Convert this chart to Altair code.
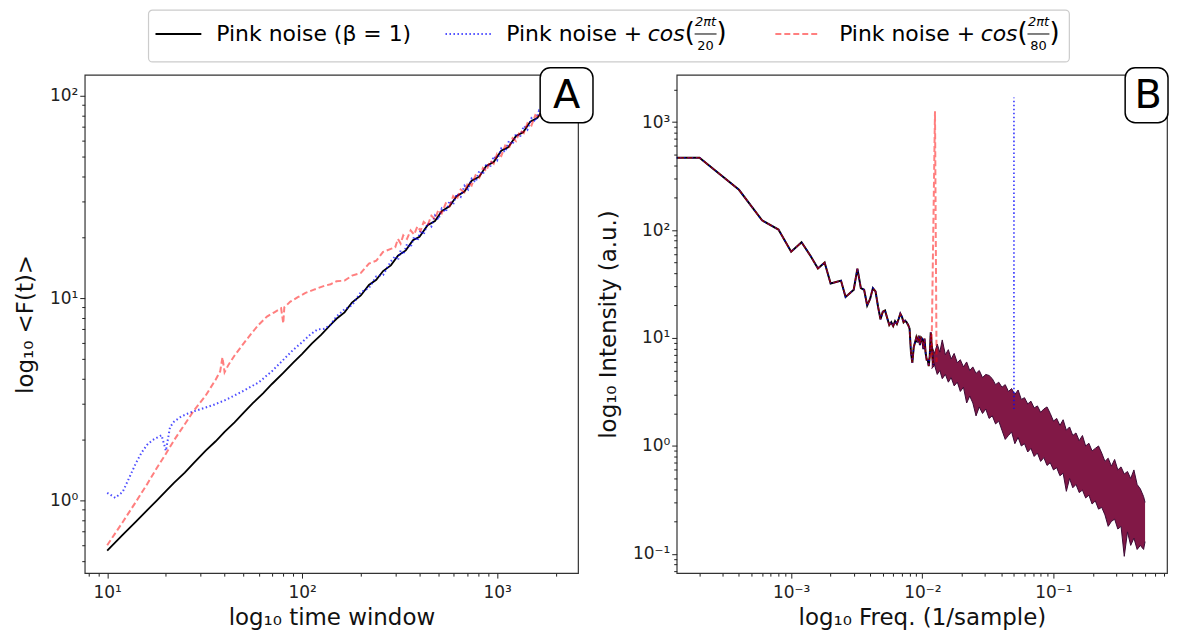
import altair as alt
import pandas as pd

FONT = "DejaVu Sans"

# ---------------- Panel A : DFA fluctuation <F(t)> vs time window t ----------------
A_T_BLACK = [10, 12, 14, 16, 18, 20, 22, 25, 28, 32, 36, 40, 45, 50, 56, 63, 70, 80, 90, 100, 112, 125, 140,
             150, 165, 180, 200, 220, 240, 260, 285, 310, 340, 370, 400, 440, 480, 520, 570, 620, 680, 740, 810,
             880, 960, 1050, 1140, 1250, 1360, 1480, 1610, 1750, 1900, 2000]
A_F_BLACK = [0.565, 0.675, 0.784, 0.893, 1.0, 1.11, 1.22, 1.37, 1.54, 1.76, 1.96, 2.18, 2.43, 2.71, 3.03, 3.38,
             3.76, 4.27, 4.80, 5.30, 5.95, 6.58, 7.38,
             7.9, 8.5, 9.5, 10.3, 11.6, 12.3, 13.6, 14.5, 16.2, 17.2, 19.3, 20.1, 22.9, 24.0, 26.9, 28.4, 31.9,
             33.6, 38.0, 39.8, 45.0, 47.0, 53.5, 55.6, 63.2, 66.0, 74.5, 77.8, 87.5, 91.5, 97.0]

A_T_BLUE = [10, 11, 12, 13, 14, 15, 16, 17, 18, 19, 20, 21, 22, 24, 26, 28, 30, 35, 40, 45, 50, 55, 60, 70, 80,
            90, 100, 110, 120, 130, 140,
            150, 165, 180, 200, 220, 240, 260, 285,
            300, 310, 320, 330, 345, 360, 375, 390, 405, 420, 440, 460, 480, 500, 520, 545, 570, 595, 620, 650,
            680, 710, 740, 775, 810, 845, 880, 920, 960, 1000, 1050, 1100, 1150, 1200, 1250, 1310, 1370, 1430,
            1500, 1570, 1640, 1710, 1790, 1870, 1950, 2000]
A_F_BLUE = [1.09, 1.03, 1.10, 1.30, 1.52, 1.72, 1.88, 1.98, 2.04, 2.10, 1.76, 2.30, 2.45, 2.60, 2.69, 2.76, 2.82,
            2.96, 3.12, 3.30, 3.48, 3.66, 3.84, 4.35, 4.95, 5.55, 6.05, 6.6, 7.0, 7.05, 7.4,
            8.1, 8.8, 9.2, 10.7, 11.2, 12.8, 13.0, 15.2,
            16.1, 15.4, 17.2, 16.4, 18.5, 17.8, 20.1, 19.2, 21.6, 20.6, 23.5, 22.6, 25.6, 24.4, 27.7, 26.6,
            30.2, 29.0, 32.8, 31.6, 35.9, 34.4, 38.9, 37.4, 42.5, 40.8, 46.1, 44.3, 50.2, 48.0, 54.8, 52.7,
            59.8, 57.4, 64.9, 62.4, 70.9, 68.0, 77.4, 74.5, 84.4, 80.9, 91.9, 88.3, 99.8, 95.0]

A_T_RED = [10, 12, 14, 16, 18, 20, 22, 25, 28, 32, 36, 38, 39, 40, 42, 45, 50, 55, 60, 66, 72, 78, 80, 81, 87,
           95, 104, 115, 130, 140,
           150, 165, 180, 200, 220, 240, 260, 285,
           300, 310, 320, 330, 345, 360, 375, 390, 405, 420, 440, 460, 480, 500, 520, 545, 570, 595, 620, 650,
           680, 710, 740, 775, 810, 845, 880, 920, 960, 1000, 1050, 1100, 1150, 1200, 1250, 1310, 1370, 1430,
           1500, 1570, 1640, 1710, 1790, 1870, 1950, 2000]
A_F_RED = [0.60, 0.78, 0.98, 1.20, 1.45, 1.70, 1.98, 2.38, 2.80, 3.30, 3.95, 4.35, 5.10, 4.30, 4.70, 5.20, 5.95,
           6.70, 7.40, 8.10, 8.50, 8.90, 7.50, 9.00, 9.60, 10.1, 10.6, 11.0, 11.5, 11.7,
           12.1, 12.2, 12.9, 13.3, 14.8, 15.3, 16.9, 17.5,
           17.8, 19.6, 18.6, 20.4, 19.6, 21.6, 20.6, 22.6, 21.5, 23.8, 22.9, 25.5, 24.5, 27.3, 26.2, 29.4,
           28.4, 31.9, 30.6, 34.4, 33.3, 37.3, 36.0, 40.4, 39.3, 43.9, 42.4, 47.7, 46.1, 51.7, 50.3, 56.7,
           55.0, 61.7, 59.7, 67.2, 65.3, 73.2, 71.2, 80.2, 77.8, 87.1, 84.7, 95.1, 91.9, 98.0]

# ---------------- Panel B : power spectrum ----------------
# first entry stands for the zero-frequency bin (clipped at the left edge)
B_FREQ_LINE = [0.0001, 0.0002, 0.0004, 0.0006, 0.0008, 0.0010, 0.0012, 0.0014, 0.0016, 0.0018, 0.0020, 0.0022,
               0.0024, 0.0026, 0.0028, 0.0030, 0.0032, 0.0034, 0.0036, 0.0038, 0.0040, 0.0042, 0.0044, 0.0046,
               0.0048, 0.0050, 0.0052, 0.0054, 0.0056, 0.0058, 0.0060, 0.0062, 0.0064, 0.0066, 0.0068, 0.0070,
               0.0072, 0.0074, 0.0076, 0.0078, 0.0080, 0.0082, 0.0084, 0.0086, 0.0088, 0.0090, 0.0092, 0.0094,
               0.0096, 0.0098, 0.0100, 0.0102, 0.0104, 0.0106, 0.0108, 0.0110, 0.0112, 0.0114, 0.0116, 0.0118,
               0.0120, 0.0122]
B_POW_LINE = [468, 468, 236, 123, 101, 63, 77, 58, 44, 50, 32, 33, 34, 24, 26, 28, 44, 29, 28, 20, 23, 29, 27,
              19.5, 14.9, 17.5, 18, 15.3, 13.2, 14, 12.9, 14.3, 13.5, 15, 16.8, 15.7, 14, 14.5, 14, 13.2, 12.2,
              7.3, 5.9, 8.2, 9.1, 10.1, 9.1, 10.5, 8.6, 10.1, 9.8, 7.9, 9.9, 7.3, 6.3, 6.3, 5.5, 6.8, 11.3, 8.5,
              6.3, 5.6]

B_FREQ_BAND = [0.0118, 0.0124, 0.0130, 0.0136, 0.0142, 0.0150, 0.0158, 0.0166, 0.0175, 0.0185,
               0.0195, 0.0206, 0.0218, 0.0230, 0.0243, 0.0257, 0.0272, 0.0288, 0.0305, 0.0323,
               0.0342, 0.0362, 0.0383, 0.0405, 0.0429, 0.0454, 0.0480, 0.0508, 0.0538, 0.0569,
               0.0602, 0.0637, 0.0674, 0.0713, 0.0755, 0.0799, 0.0845, 0.0894, 0.0946, 0.1001,
               0.1059, 0.1121, 0.1186, 0.1255, 0.1328, 0.1405, 0.1487, 0.1573, 0.1665, 0.1761,
               0.1864, 0.1972, 0.2087, 0.2208, 0.2336, 0.2472, 0.2616, 0.2768, 0.2929, 0.3099,
               0.3279, 0.3470, 0.3672, 0.3885, 0.4111, 0.4350, 0.4603, 0.4871, 0.5000]
B_BAND_HI = [8.5, 7.2, 8.8, 7.4, 9.6, 7.0, 7.8, 6.4, 7.2, 5.9,
             6.3, 5.4, 6.0, 5.0, 5.4, 4.7, 5.0, 4.3, 4.6, 4.5,
             4.2, 3.7, 3.9, 3.5, 3.7, 3.2, 3.4, 3.0, 3.3, 2.7,
             2.8, 2.45, 2.6, 2.25, 2.35, 2.05, 2.2, 2.3, 2.0, 1.7,
             1.8, 1.55, 1.75, 1.4, 1.5, 1.25, 1.32, 1.12, 1.25, 1.0,
             1.06, 0.9, 0.95, 1.0, 0.86, 0.72, 0.77, 0.65, 0.75, 0.60,
             0.64, 0.55, 0.58, 0.50, 0.60, 0.44, 0.40, 0.34, 0.30]
B_BAND_LO = [5.2, 5.6, 4.6, 5.0, 4.2, 4.6, 3.9, 4.3, 3.6, 3.9,
             3.2, 3.5, 2.5, 2.9, 2.5, 1.9, 2.3, 2.0, 2.2, 1.8,
             1.9, 1.6, 1.7, 1.4, 1.15, 1.25, 1.35, 1.05, 1.2, 1.0,
             1.05, 0.88, 0.95, 0.80, 0.86, 0.72, 0.78, 0.66, 0.70, 0.60,
             0.63, 0.53, 0.56, 0.38, 0.50, 0.41, 0.44, 0.37, 0.39, 0.33,
             0.35, 0.29, 0.31, 0.26, 0.27, 0.23, 0.18, 0.20, 0.21, 0.17,
             0.18, 0.095, 0.16, 0.12, 0.14, 0.11, 0.12, 0.11, 0.13]

B_BLUE_PEAK_F = [0.04995, 0.05, 0.05005]
B_BLUE_PEAK_P = [2.6, 1690, 2.2]
B_RED_PEAK_F = [0.01175, 0.0125, 0.01285]
B_RED_PEAK_P = [6.5, 1260, 6.0]

# ---------------- text ----------------
SERIES_NAMES = ["Pink noise (β = 1)", "Pink noise + ", "Pink noise + "]
FRAC_NUM = "2πt"
FRAC_DEN = ["20", "80"]
PANEL_LABELS = ["A", "B"]
COLORS = {"black": "#000000", "blue": "#0000ff", "red": "#ff0000"}

# ---------------- axis helpers ----------------
MAJOR = "abs(log(datum.value)/LN10 - round(log(datum.value)/LN10)) < 0.01"
EXP = "round(log(datum.value)/LN10)"
SUP = "['⁰','¹','²','³','⁴','⁵']"
LABEL_EXPR = f"{MAJOR} ? '10' + ({EXP} < 0 ? '⁻' : '') + {SUP}[abs({EXP})] : ''"


def ticks_in(domain, exps):
    vals = []
    for e in exps:
        for m in range(1, 10):
            v = m * 10.0 ** e
            if domain[0] <= v <= domain[1]:
                vals.append(v)
    return vals


def log_axis(title, domain, exps, title_pad, label_pad=2):
    return alt.Axis(title=title, values=ticks_in(domain, exps), labelExpr=LABEL_EXPR,
                    tickSize={"condition": {"test": MAJOR, "value": 5}, "value": 3},
                    labelOverlap=False, labelFlush=False, titlePadding=title_pad, labelPadding=label_pad,
                    tickColor="#222", tickWidth=1, labelFontSize=17, titleFontSize=23,
                    labelFont=FONT, titleFont=FONT, titleFontWeight="normal",
                    labelColor="#222", titleColor="#111", domain=False, grid=False)


A_X_DOMAIN = [7.67, 2600]
A_Y_DOMAIN = [0.437, 126.8]
B_X_DOMAIN = [1.34e-4, 0.735]
B_Y_DOMAIN = [0.0664, 2740]

ax_x = alt.X("x:Q", scale=alt.Scale(type="log", domain=A_X_DOMAIN, nice=False),
             axis=log_axis("log₁₀ time window", A_X_DOMAIN, [0, 1, 2, 3], 7, 6))
ax_y = alt.Y("y:Q", scale=alt.Scale(type="log", domain=A_Y_DOMAIN, nice=False),
             axis=log_axis("log₁₀ <F(t)>", A_Y_DOMAIN, [-1, 0, 1, 2], 12))
bx_x = alt.X("x:Q", scale=alt.Scale(type="log", domain=B_X_DOMAIN, nice=False),
             axis=log_axis("log₁₀ Freq. (1/sample)", B_X_DOMAIN, [-4, -3, -2, -1], 7, 6))
bx_y = alt.Y("y:Q", scale=alt.Scale(type="log", domain=B_Y_DOMAIN, nice=False),
             axis=log_axis("log₁₀ Intensity (a.u.)", B_Y_DOMAIN, [-2, -1, 0, 1, 2, 3], 12))


def df_xy(xs, ys):
    return pd.DataFrame({"x": xs, "y": ys})


def styled_line(df, kind, width, xenc, yenc, clip=False):
    if kind == "black":
        mk = alt.Chart(df).mark_line(color=COLORS["black"], strokeWidth=width, clip=clip)
    elif kind == "blue":
        mk = alt.Chart(df).mark_line(color=COLORS["blue"], strokeWidth=width, strokeDash=[1.5, 2.5],
                                     opacity=0.7, clip=clip)
    else:
        mk = alt.Chart(df).mark_line(color=COLORS["red"], strokeWidth=width, strokeDash=[6, 3],
                                     opacity=0.5, clip=clip)
    return mk.encode(x=xenc, y=yenc)


def panel_label(label, x0, x1, cx):
    d = pd.DataFrame({"label": [label]})
    box = alt.Chart(d).mark_rect(fill="white", stroke="black", strokeWidth=1.5, cornerRadius=10).encode(
        x=alt.value(x0), x2=alt.value(x1), y=alt.value(-7), y2=alt.value(48))
    txt = alt.Chart(d).mark_text(fontSize=40, font=FONT, color="black").encode(
        x=alt.value(cx), y=alt.value(21), text="label:N")
    return [box, txt]


FRAME = alt.ViewBackground(stroke="#333333", strokeWidth=1.2)

panel_a = alt.layer(
    styled_line(df_xy(A_T_BLACK, A_F_BLACK), "black", 1.8, ax_x, ax_y),
    styled_line(df_xy(A_T_BLUE, A_F_BLUE), "blue", 2, ax_x, ax_y),
    styled_line(df_xy(A_T_RED, A_F_RED), "red", 2, ax_x, ax_y),
    *panel_label(PANEL_LABELS[0], 457, 510, 483.5),
).properties(width=495, height=500, view=FRAME)

band_df = pd.DataFrame({"x": B_FREQ_BAND, "y": B_BAND_HI, "lo": B_BAND_LO})
band = alt.Chart(band_df).mark_area(color="#7a0c3c", opacity=0.95, clip=True).encode(
    x=bx_x, y=bx_y, y2=alt.Y2("lo:Q"))
band_top = alt.Chart(band_df).mark_line(color="#3d0a35", strokeWidth=1, clip=True).encode(x=bx_x, y=bx_y)
band_bot = alt.Chart(band_df).mark_line(color="#3d0a35", strokeWidth=1, clip=True).encode(
    x=bx_x, y=alt.Y("lo:Q", scale=alt.Scale(type="log", domain=B_Y_DOMAIN, nice=False)))

line_df = df_xy(B_FREQ_LINE, B_POW_LINE)
panel_b = alt.layer(
    band, band_top, band_bot,
    styled_line(line_df, "black", 2, bx_x, bx_y, clip=True),
    styled_line(line_df, "blue", 1.5, bx_x, bx_y, clip=True),
    styled_line(line_df, "red", 1.5, bx_x, bx_y, clip=True),
    styled_line(df_xy(B_BLUE_PEAK_F, B_BLUE_PEAK_P), "blue", 1.8, bx_x, bx_y, clip=True),
    styled_line(df_xy(B_RED_PEAK_F, B_RED_PEAK_P), "red", 2, bx_x, bx_y, clip=True),
    *panel_label(PANEL_LABELS[1], 450, 493, 473),
).properties(width=492, height=500, view=FRAME)

# ---------------- legend (strip above the panels; origin = panel A plot left) ----------------
one = pd.DataFrame({"k": [0]})


def ltext(txt, x, y, size=22, italic=False, align="left"):
    kw = dict(fontSize=size, font=FONT, color="black", align=align, baseline="middle")
    if italic:
        kw["fontStyle"] = "italic"
    return alt.Chart(one).mark_text(**kw).encode(x=alt.value(x), y=alt.value(y), text=alt.value(txt))


def lrule(x0, x1, y, color, width, dash=None, opacity=1.0):
    kw = dict(color=color, strokeWidth=width, opacity=opacity)
    if dash:
        kw["strokeDash"] = dash
    return alt.Chart(one).mark_rule(**kw).encode(x=alt.value(x0), x2=alt.value(x1), y=alt.value(y))


legend_box = alt.Chart(one).mark_rect(fill="white", stroke="#cccccc", strokeWidth=1.2, cornerRadius=4).encode(
    x=alt.value(64), x2=alt.value(988), y=alt.value(0), y2=alt.value(52))

leg_layers = [legend_box,
              lrule(71, 117, 24, COLORS["black"], 2),
              ltext(SERIES_NAMES[0], 132, 24)]
for i, (lx, tx) in enumerate([(362, 423), (693, 757)]):
    if i == 0:
        leg_layers.append(lrule(lx, lx + 48, 24, COLORS["blue"], 2, [1.5, 2.5], 0.7))
    else:
        leg_layers.append(lrule(lx, lx + 44, 24, COLORS["red"], 2, [6, 3], 0.5))
    cx = tx + 142
    px = cx + 37
    leg_layers += [
        ltext(SERIES_NAMES[i + 1], tx, 24),
        ltext("cos", cx, 24, italic=True),
        ltext("(", px, 23, size=26),
        ltext(FRAC_NUM, px + 21, 12, size=13, italic=True, align="center"),
        lrule(px + 10, px + 32, 24, "black", 1),
        ltext(FRAC_DEN[i], px + 21, 36, size=13, align="center"),
        ltext(")", px + 32, 23, size=26),
    ]

legend = alt.layer(*leg_layers).properties(width=990, height=54,
                                           view=alt.ViewBackground(strokeWidth=0))

row = alt.hconcat(panel_a, panel_b, spacing=1)
chart = alt.vconcat(legend, row, spacing=2).properties(
    padding={"left": 5, "top": 0, "right": 0, "bottom": 0}, background="white"
).configure_view(strokeWidth=0)

chart.save("out.html", embed_options={"renderer": "svg", "actions": False})
